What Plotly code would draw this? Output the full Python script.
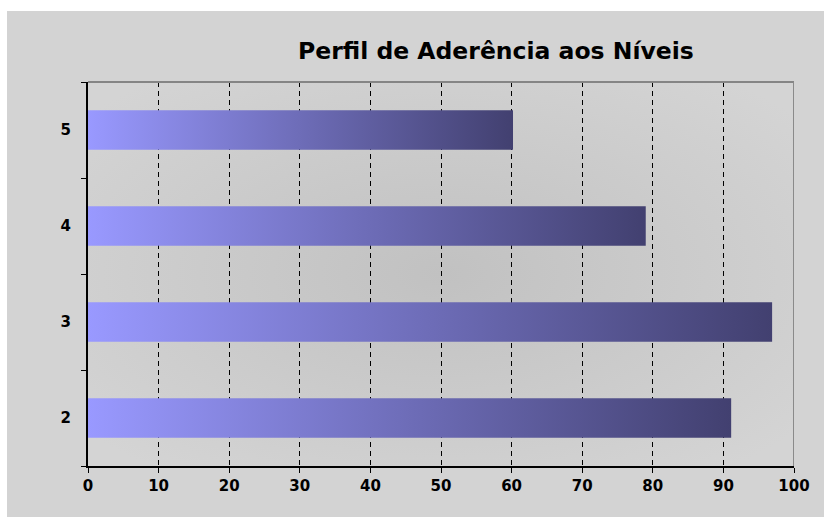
import base64
import plotly.graph_objects as go

# ---- data ----
categories = ["2", "3", "4", "5"]
values = [91.1, 96.9, 79.0, 60.2]
x_ticks = [0, 10, 20, 30, 40, 50, 60, 70, 80, 90, 100]
title_text = "Perfil de Aderência aos Níveis"

# ---- style ----
W, H = 824, 517
L, R, T, B = 88, 30, 82, 51
PW, PH = W - L - R, H - T - B
BAR_HALF = 0.205
bar_scale = [[0, "#9999ff"], [1, "#424070"]]
font_fam = "DejaVu Sans"

fig = go.Figure()
for i, (cat, v) in enumerate(zip(categories, values)):
    fig.add_trace(go.Scatter(
        x=[0, v, v, 0, 0],
        y=[i - BAR_HALF, i - BAR_HALF, i + BAR_HALF, i + BAR_HALF, i - BAR_HALF],
        mode="lines", fill="toself", line=dict(width=0),
        fillgradient=dict(type="horizontal", colorscale=bar_scale),
        hoverinfo="skip", showlegend=False, name=cat,
    ))

# background: outer gray panel + radial gray gradient in plot area
ox, oy = 7, 11
bw, bh = W - ox, H - oy
svg = f'''<svg xmlns="http://www.w3.org/2000/svg" width="{bw}" height="{bh}" viewBox="0 0 {bw} {bh}" preserveAspectRatio="none">
<defs><radialGradient id="g" cx="50%" cy="50%" r="65%">
<stop offset="0" stop-color="#c1c1c1"/><stop offset="1" stop-color="#d4d4d4"/></radialGradient></defs>
<rect width="{bw}" height="{bh}" fill="#d3d3d3"/>
<rect x="{L-ox}" y="{T-oy}" width="{PW}" height="{PH}" fill="url(#g)"/>
</svg>'''
src = "data:image/svg+xml;base64," + base64.b64encode(svg.encode()).decode()
fig.add_layout_image(dict(
    source=src, xref="paper", yref="paper",
    x=(ox - L) / PW, y=1 + (T - oy) / PH,
    sizex=bw / PW, sizey=bh / PH,
    xanchor="left", yanchor="top", sizing="stretch", layer="below",
))

# plot-area border lines (top solid gray, right gray)
fig.add_shape(type="line", xref="paper", yref="paper", x0=0, x1=1, y0=1, y1=1,
              line=dict(color="#858585", width=2))
fig.add_shape(type="line", xref="x", yref="paper", x0=100, x1=100, y0=0, y1=1,
              line=dict(color="#8a8a8a", width=2))

tickfont = dict(family=font_fam, size=15, color="black", weight="bold")

fig.update_layout(
    width=W, height=H,
    margin=dict(l=L, r=R, t=T, b=B),
    paper_bgcolor="white",
    plot_bgcolor="rgba(0,0,0,0)",
    title=dict(text=f"<b>{title_text}</b>", xref="container", yref="container",
               x=298 / W, xanchor="left", y=1 - 51 / H, yanchor="middle",
               font=dict(family=font_fam, size=23.5, color="black")),
    xaxis=dict(range=[0, 100], tickvals=x_ticks, ticktext=[str(t) for t in x_ticks],
               showgrid=True, gridcolor="black", gridwidth=1, griddash="5px,4px",
               showline=True, linecolor="black", linewidth=2,
               ticks="outside", ticklen=5, tickcolor="black", tickwidth=1,
               tickfont=tickfont, zeroline=False, fixedrange=True),
    yaxis=dict(range=[-0.5, 3.5], tickvals=list(range(len(categories))), ticktext=categories,
               showgrid=False, showline=True, linecolor="black", linewidth=2,
               ticks="", ticklabelstandoff=12, tickfont=tickfont, zeroline=False,
               minor=dict(tick0=-0.5, dtick=1, ticks="outside", ticklen=5,
                          tickcolor="black", tickwidth=1, showgrid=False),
               fixedrange=True),
)

fig.write_html("out.html")
